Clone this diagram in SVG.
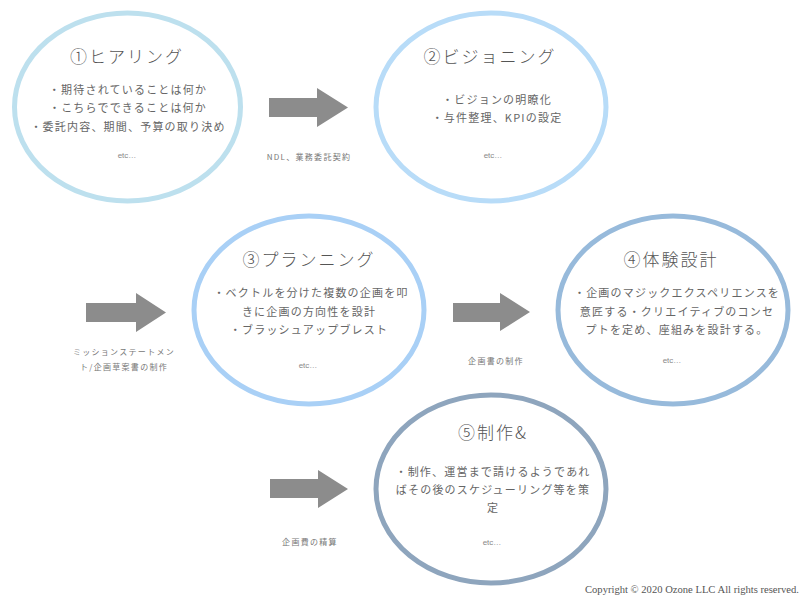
<svg xmlns="http://www.w3.org/2000/svg" width="800" height="599" viewBox="0 0 800 599">
<style>
.ring{fill:#fff;stroke-width:5}
.t{font-family:"Noto Sans CJK JP","Noto Sans",sans-serif;fill:#666;text-anchor:middle}
.title{font-size:17px;letter-spacing:2px;fill:#555;font-weight:300}
.b{font-size:11px;letter-spacing:1.2px}
.etc{font-family:"Liberation Sans",sans-serif;font-size:8px;fill:#888;text-anchor:middle}
.lab{font-family:"Noto Sans CJK JP",sans-serif;font-size:8px;letter-spacing:1.3px;fill:#777;text-anchor:middle}
.arrow{fill:#8c8c8c}
.copy{font-family:"Liberation Serif",serif;font-size:10.6px;fill:#555;text-anchor:end}
</style>
<rect width="800" height="599" fill="#fff"/>
<g id="connectors">
<g id="arrow1"><polygon class="arrow" points="269,98 317,98 317,88 348,107.5 317,127 317,117 269,117"/><text class="lab" x="309" y="160">NDL、業務委託契約</text></g>
<g id="arrow2"><polygon class="arrow" points="86,303 136,303 136,293 166,312.5 136,332 136,322 86,322"/><text class="lab" x="124" y="355">ミッションステートメン</text><text class="lab" x="124" y="370">ト/企画草案書の制作</text></g>
<g id="arrow3"><polygon class="arrow" points="453,303 500,303 500,293 530,312 500,331 500,322 453,322"/><text class="lab" x="496" y="364">企画書の制作</text></g>
<g id="arrow4"><polygon class="arrow" points="270,479 318,479 318,470 348,489 318,508 318,498 270,498"/><text class="lab" x="310" y="545">企画費の精算</text></g>
</g>
<g id="node1">
<ellipse class="ring" cx="127.5" cy="107" rx="113" ry="94" stroke="#bde0ee"/>
<text class="t title" x="127" y="63">①ヒアリング</text>
<text class="t b" x="128" y="94">・期待されていることは何か</text>
<text class="t b" x="128" y="112">・こちらでできることは何か</text>
<text class="t b" x="128" y="131">・委託内容、期間、予算の取り決め</text>
<text class="etc" x="127" y="158">etc…</text>
</g>
<g id="node2">
<ellipse class="ring" cx="491" cy="107" rx="115" ry="94" stroke="#b8dcf8"/>
<text class="t title" x="490" y="63">②ビジョニング</text>
<text class="t b" x="497" y="104">・ビジョンの明瞭化</text>
<text class="t b" x="497" y="122">・与件整理、KPIの設定</text>
<text class="etc" x="493" y="158">etc…</text>
</g>
<g id="node3">
<ellipse class="ring" cx="309" cy="310" rx="115" ry="94" stroke="#a9d0f6"/>
<text class="t title" x="309" y="266">③プランニング</text>
<text class="t b" x="311" y="297">・ベクトルを分けた複数の企画を叩</text>
<text class="t b" x="309" y="316">きに企画の方向性を設計</text>
<text class="t b" x="309" y="334">・ブラッシュアップブレスト</text>
<text class="etc" x="308" y="368">etc…</text>
</g>
<g id="node4">
<ellipse class="ring" cx="673" cy="310" rx="115" ry="94" stroke="#97badb"/>
<text class="t title" x="671" y="266">④体験設計</text>
<text class="t b" x="677" y="297">・企画のマジックエクスペリエンスを</text>
<text class="t b" x="677" y="316">意匠する・クリエイティブのコンセ</text>
<text class="t b" x="677" y="334">プトを定め、座組みを設計する。</text>
<text class="etc" x="672" y="363">etc…</text>
</g>
<g id="node5">
<ellipse class="ring" cx="491" cy="489" rx="115" ry="94" stroke="#8ea5bd"/>
<text class="t title" x="493" y="439">⑤制作&amp;</text>
<text class="t b" x="493" y="476">・制作、運営まで請けるようであれ</text>
<text class="t b" x="493" y="494">ばその後のスケジューリング等を策</text>
<text class="t b" x="493" y="512">定</text>
<text class="etc" x="492" y="545">etc…</text>
</g>
<text class="copy" x="799" y="593">Copyright © 2020 Ozone LLC All rights reserved.</text>
</svg>
